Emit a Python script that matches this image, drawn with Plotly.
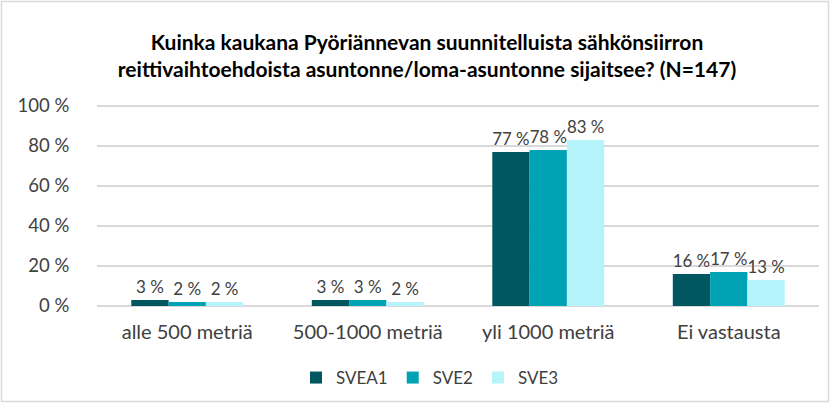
import plotly.graph_objects as go

categories = ["alle 500 metriä", "500-1000 metriä", "yli 1000 metriä", "Ei vastausta"]
series_names = ["SVEA1", "SVE2", "SVE3"]
svea1 = [3, 3, 77, 16]
sve2 = [2, 3, 78, 17]
sve3 = [2, 2, 83, 13]
colors = ["#00575F", "#00A3B3", "#B5F4FB"]
tick_vals = [0, 20, 40, 60, 80, 100]
tick_text = ["0 %", "20 %", "40 %", "60 %", "80 %", "100 %"]

W, H = 830, 403
L, R, T, B = 97, 11, 102, 97
pw, ph = W - L - R, H - T - B
FONT = "Lato, Open Sans, sans-serif"

fig = go.Figure()
for name, vals, col in zip(series_names, [svea1, sve2, sve3], colors):
    fig.add_trace(go.Bar(
        x=categories, y=vals, name=name, marker_color=col, marker_line_width=0,
        text=[f"{v} %" for v in vals], textposition="outside", cliponaxis=False,
        textfont=dict(size=17, color="#404040", family=FONT),
    ))

fig.update_layout(
    width=W, height=H,
    margin=dict(l=L, r=R, t=T, b=B, pad=0, autoexpand=False),
    paper_bgcolor="white", plot_bgcolor="white",
    barmode="group", bargap=0.38, bargroupgap=0,
    font=dict(family=FONT, color="#404040", size=18),
    title=dict(
        text="<b>Kuinka kaukana Pyöriännevan suunnitelluista sähkönsiirron<br>reittivaihtoehdoista asuntonne/loma-asuntonne sijaitsee? (N=147)</b>",
        x=(427 - L) / pw, xref="paper", xanchor="center",
        y=1 - 50 / H, yanchor="middle",
        font=dict(size=21, color="#000000", family=FONT),
    ),
    legend=dict(
        orientation="h", x=(430 - L) / pw, xanchor="center",
        y=(H - B - 378) / ph, yanchor="middle",
        font=dict(size=17, color="#404040", family=FONT),
        traceorder="normal",
    ),
    showlegend=True,
)
fig.update_yaxes(
    range=[0, 102], tickmode="array", tickvals=tick_vals, ticktext=tick_text,
    showgrid=True, gridcolor="#D9D9D9", gridwidth=1.5,
    zeroline=True, zerolinecolor="#D9D9D9", zerolinewidth=1.5,
    showline=False, ticks="outside", ticklen=23, tickcolor="white",
    tickfont=dict(size=18.5, color="#404040", family=FONT),
)
fig.update_xaxes(
    showgrid=False, showline=False, ticks="outside", ticklen=8, tickcolor="white",
    tickfont=dict(size=20, color="#404040", family=FONT),
)
fig.add_shape(
    type="rect", xref="paper", yref="paper",
    x0=(1.5 - L) / pw, x1=(W - 1.5 - L) / pw,
    y0=(H - B - (H - 1.5)) / ph, y1=(H - B - 1.5) / ph,
    line=dict(color="#D9D9D9", width=1.5), fillcolor="rgba(0,0,0,0)", layer="below",
)

fig.write_html("out.html", config={"displayModeBar": False},
               post_script="document.body.style.margin='0px';")
